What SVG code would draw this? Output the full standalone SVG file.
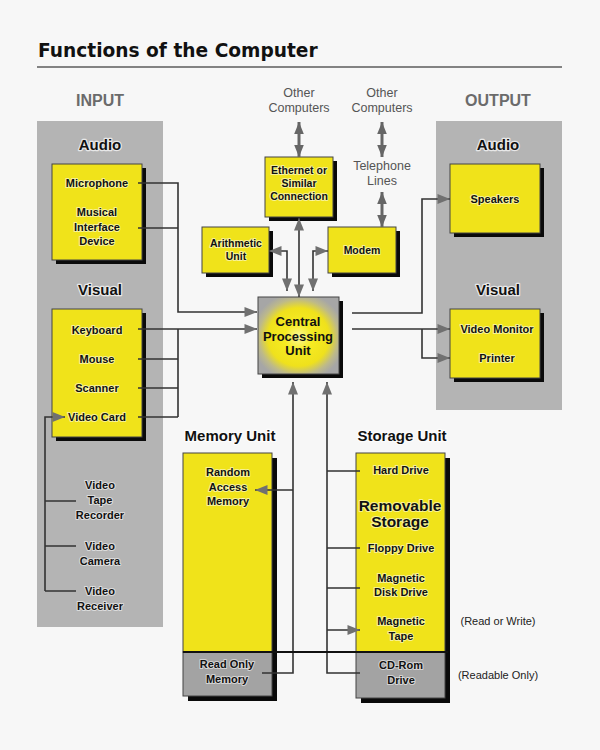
<svg xmlns="http://www.w3.org/2000/svg" width="600" height="750" viewBox="0 0 600 750">
<defs>
<style>
text{font-family:"Liberation Sans",Arial,sans-serif;font-weight:bold;text-anchor:middle;fill:#111;}
.t{font-size:11px;stroke:#fff;stroke-width:2px;stroke-opacity:.55;paint-order:stroke;stroke-linejoin:round;}
.h{font-size:15px;stroke:#fff;stroke-width:2.5px;stroke-opacity:.7;paint-order:stroke;stroke-linejoin:round;}
.io{font-size:16px;fill:#6b6b6b;}
.g{font-size:12.5px;font-weight:normal;fill:#555;}
.n{font-size:11px;font-weight:normal;fill:#222;}
.col{fill:#b4b4b4;}
.y{fill:#f0e31a;stroke:#444;stroke-width:1;}
.gr{fill:#a3a3a3;stroke:#444;stroke-width:1;}
.sh{fill:#0a0a0a;}
.c{fill:none;stroke:#333;stroke-width:1.6;}
.c2{fill:none;stroke:#666;stroke-width:3;}
</style>
<marker id="ah" viewBox="0 0 10 8" refX="10" refY="4" markerWidth="13" markerHeight="10" orient="auto-start-reverse" markerUnits="userSpaceOnUse"><path d="M0,0 L10,4 L0,8 z" fill="#707070"/></marker>
<marker id="ah2" viewBox="0 0 10 8" refX="10" refY="4" markerWidth="12" markerHeight="11" orient="auto-start-reverse" markerUnits="userSpaceOnUse"><path d="M0,0 L10,4 L0,8 z" fill="#666"/></marker>
<radialGradient id="glow" cx="0.5" cy="0.52" r="0.58">
<stop offset="0" stop-color="#fbf6a0"/>
<stop offset="0.3" stop-color="#f6eb22"/>
<stop offset="0.65" stop-color="#efe11c"/>
<stop offset="0.85" stop-color="#bdb98a"/>
<stop offset="1" stop-color="#a6a6a6"/>
</radialGradient>
</defs>
<rect width="600" height="750" fill="#f7f7f7"/>
<g id="title">
<text x="38" y="57" style="font-family:'DejaVu Sans',sans-serif;font-size:18.6px;text-anchor:start">Functions of the Computer</text>
<line x1="37" y1="67" x2="562" y2="67" stroke="#111" stroke-width="1.2"/>
</g>
<g id="input-column">
<rect class="col" x="37" y="121" width="126" height="506"/>
<text class="io" x="100" y="106">INPUT</text>
<text class="h" x="100" y="150">Audio</text>
<text class="h" x="100" y="295">Visual</text>
</g>
<g id="output-column">
<rect class="col" x="436" y="121" width="126" height="289"/>
<text class="io" x="498" y="106">OUTPUT</text>
<text class="h" x="498" y="150">Audio</text>
<text class="h" x="498" y="295">Visual</text>
</g>
<g id="audio-input">
<rect class="sh" x="56" y="168" width="90" height="96"/>
<rect class="y" x="52" y="164" width="90" height="96"/>
<text class="t" x="97" y="187">Microphone</text>
<text class="t" x="97" y="216">Musical</text>
<text class="t" x="97" y="231">Interface</text>
<text class="t" x="97" y="245">Device</text>
</g>
<g id="visual-input">
<rect class="sh" x="56" y="313" width="90" height="128"/>
<rect class="y" x="52" y="309" width="90" height="128"/>
<text class="t" x="97" y="334">Keyboard</text>
<text class="t" x="97" y="363">Mouse</text>
<text class="t" x="97" y="392">Scanner</text>
<text class="t" x="97" y="421">Video Card</text>
</g>
<g id="video-sources">
<text class="t" x="100" y="489">Video</text>
<text class="t" x="100" y="504">Tape</text>
<text class="t" x="100" y="519">Recorder</text>
<text class="t" x="100" y="550">Video</text>
<text class="t" x="100" y="565">Camera</text>
<text class="t" x="100" y="595">Video</text>
<text class="t" x="100" y="610">Receiver</text>
</g>
<g id="network-labels">
<text class="g" x="299" y="97">Other</text>
<text class="g" x="299" y="112">Computers</text>
<text class="g" x="382" y="97">Other</text>
<text class="g" x="382" y="112">Computers</text>
<text class="g" x="382" y="170">Telephone</text>
<text class="g" x="382" y="185">Lines</text>
</g>
<g id="ethernet">
<rect class="sh" x="269" y="161" width="68" height="60"/>
<rect class="y" x="265" y="157" width="68" height="60"/>
<text class="t" x="299" y="174" style="font-size:10.5px">Ethernet or</text>
<text class="t" x="299" y="187" style="font-size:10.5px">Similar</text>
<text class="t" x="299" y="200" style="font-size:10.5px">Connection</text>
</g>
<g id="arithmetic">
<rect class="sh" x="206" y="231" width="67" height="46"/>
<rect class="y" x="202" y="227" width="67" height="46"/>
<text class="t" x="236" y="247" style="font-size:10.5px">Arithmetic</text>
<text class="t" x="236" y="260" style="font-size:10.5px">Unit</text>
</g>
<g id="modem">
<rect class="sh" x="332" y="231" width="68" height="46"/>
<rect class="y" x="328" y="227" width="68" height="46"/>
<text class="t" x="362" y="254" style="font-size:10.5px">Modem</text>
</g>
<g id="cpu">
<rect class="sh" x="262" y="301" width="81" height="77"/>
<rect x="258" y="297" width="81" height="77" fill="url(#glow)" stroke="#444" stroke-width="1"/>
<text x="298" y="326" style="font-size:13px">Central</text>
<text x="298" y="341" style="font-size:13px">Processing</text>
<text x="298" y="355" style="font-size:13px">Unit</text>
</g>
<g id="audio-output">
<rect class="sh" x="454" y="168" width="90" height="69"/>
<rect class="y" x="450" y="164" width="90" height="69"/>
<text class="t" x="495" y="203">Speakers</text>
</g>
<g id="visual-output">
<rect class="sh" x="454" y="313" width="90" height="69"/>
<rect class="y" x="450" y="309" width="90" height="69"/>
<text class="t" x="497" y="333">Video Monitor</text>
<text class="t" x="497" y="362">Printer</text>
</g>
<g id="memory-unit">
<text class="h" x="230" y="441">Memory Unit</text>
<rect class="sh" x="188" y="458" width="89" height="243"/>
<rect class="y" x="183" y="453" width="89" height="199"/>
<rect class="gr" x="183" y="652" width="89" height="44"/>
<text class="t" x="228" y="476">Random</text>
<text class="t" x="228" y="491">Access</text>
<text class="t" x="228" y="505">Memory</text>
<text class="t" x="227" y="668">Read Only</text>
<text class="t" x="227" y="683">Memory</text>
</g>
<g id="storage-unit">
<text class="h" x="402" y="441">Storage Unit</text>
<rect class="sh" x="361" y="458" width="89" height="245"/>
<rect class="y" x="356" y="453" width="89" height="199"/>
<rect class="gr" x="356" y="652" width="89" height="46"/>
<text class="t" x="401" y="474">Hard Drive</text>
<text class="t" x="400" y="511" style="font-size:15.5px">Removable</text>
<text class="t" x="400" y="527" style="font-size:15.5px">Storage</text>
<text class="t" x="401" y="552">Floppy Drive</text>
<text class="t" x="401" y="582">Magnetic</text>
<text class="t" x="401" y="596">Disk Drive</text>
<text class="t" x="401" y="625">Magnetic</text>
<text class="t" x="401" y="640">Tape</text>
<text class="t" x="401" y="669">CD-Rom</text>
<text class="t" x="401" y="684">Drive</text>
</g>
<g id="notes">
<text class="n" x="498" y="625">(Read or Write)</text>
<text class="n" x="498" y="679">(Readable Only)</text>
</g>
<g id="connectors">
<path class="c" d="M138,183 H178 V312 H257" marker-end="url(#ah)"/>
<path class="c" d="M138,228 H178"/>
<path class="c" d="M138,329 H257" marker-end="url(#ah)"/>
<path class="c" d="M138,359 H178 M138,388 H178 M138,417 H178 M178,329 V417"/>
<path class="c" d="M45,591 V417 H65" marker-end="url(#ah)"/>
<path class="c" d="M76,501 H45 M76,546 H45 M76,591 H45"/>
<path class="c2" d="M299,122 V157" marker-start="url(#ah2)" marker-end="url(#ah2)"/>
<path class="c2" d="M382,122 V157" marker-start="url(#ah2)" marker-end="url(#ah2)"/>
<path class="c2" d="M382,192 V227" marker-start="url(#ah2)" marker-end="url(#ah2)"/>
<path class="c" d="M299,218 V297" marker-start="url(#ah)" marker-end="url(#ah)"/>
<path class="c" d="M269,251 H287 V291" marker-start="url(#ah)" marker-end="url(#ah)"/>
<path class="c" d="M328,251 H313 V291" marker-start="url(#ah)" marker-end="url(#ah)"/>
<path class="c" d="M352,313 H422 V199 H450" marker-end="url(#ah)"/>
<path class="c" d="M352,329 H450" marker-end="url(#ah)"/>
<path class="c" d="M422,329 V358 H450" marker-end="url(#ah)"/>
<path class="c" d="M293,382 V673 H262" marker-start="url(#ah)"/>
<path class="c" d="M293,490 H255" marker-end="url(#ah)"/>
<path class="c" d="M327,382 V673 H360" marker-start="url(#ah)"/>
<path class="c" d="M327,471 H360 M327,548 H360 M327,588 H360 M327,630 H360" marker-end="url(#ah)"/>
<path d="M183,652 H448" stroke="#111" stroke-width="2" fill="none"/>
</g>
</svg>
